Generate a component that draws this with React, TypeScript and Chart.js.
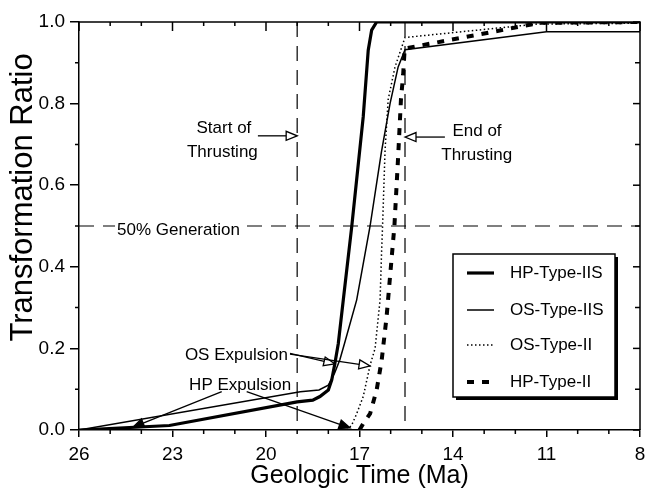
import React, { useEffect, useRef } from 'react';
import { Chart, registerables } from 'chart.js';
Chart.register(...registerables);

// ---------- data (Geologic time in Ma, transformation ratio) ----------
const hpIISTime = [26, 23.1, 19.0, 18.5, 18.27, 18.0, 17.89, 17.79, 17.68, 17.52, 17.25, 16.88, 16.72, 16.61, 16.45, 8];
const hpIISRatio = [0, 0.011, 0.069, 0.073, 0.082, 0.098, 0.123, 0.163, 0.212, 0.319, 0.498, 0.768, 0.931, 0.98, 1.0, 1.0];

const osIISTime = [26, 18.9, 18.3, 18.0, 17.8, 17.63, 17.47, 17.09, 16.66, 16.3, 16.02, 15.76, 15.54, 11.0, 8];
const osIISRatio = [0, 0.094, 0.098, 0.11, 0.139, 0.172, 0.215, 0.319, 0.5, 0.68, 0.8, 0.89, 0.932, 0.976, 0.976];

const osIITime = [17.4, 17.25, 17.09, 16.88, 16.66, 16.5, 16.34, 16.29, 16.26, 16.18, 16.08, 15.86, 15.54, 11.3, 8];
const osIIRatio = [0, 0.012, 0.04, 0.082, 0.159, 0.2, 0.319, 0.44, 0.5, 0.686, 0.81, 0.89, 0.962, 0.995, 0.997];

const hpIITime = [17.0, 16.88, 16.66, 16.45, 16.29, 16.13, 16.02, 15.88, 15.76, 15.67, 15.6, 15.55, 11.2, 8];
const hpIIRatio = [0, 0.016, 0.04, 0.098, 0.17, 0.278, 0.376, 0.5, 0.67, 0.81, 0.87, 0.935, 0.998, 1.0];

const seriesLabels = ['HP-Type-IIS', 'OS-Type-IIS', 'OS-Type-II', 'HP-Type-II'];
const xTickValues = [26, 23, 20, 17, 14, 11, 8];
const startThrusting = 19.0;
const endThrusting = 15.54;
const halfGeneration = 0.5;
const yTitle = 'Transformation Ratio';
const xTitle = 'Geologic Time (Ma)';

const FONT = '"Liberation Sans", Arial, Helvetica, sans-serif';

const pts = (xs: number[], ys: number[]) => xs.map((x, i) => ({ x, y: ys[i] }));

function drawArrow(ctx: CanvasRenderingContext2D, x1: number, y1: number, x2: number, y2: number, filled: boolean) {
  const len = 11, hw = 4.5;
  const a = Math.atan2(y2 - y1, x2 - x1);
  const bx = x2 - len * Math.cos(a), by = y2 - len * Math.sin(a);
  ctx.beginPath();
  ctx.moveTo(x1, y1);
  ctx.lineTo(bx, by);
  ctx.stroke();
  const px = -Math.sin(a) * hw, py = Math.cos(a) * hw;
  ctx.beginPath();
  ctx.moveTo(x2, y2);
  ctx.lineTo(bx + px, by + py);
  ctx.lineTo(bx - px, by - py);
  ctx.closePath();
  ctx.fillStyle = filled ? '#000' : '#fff';
  ctx.fill();
  ctx.stroke();
}

const decorPlugin = {
  id: 'decor',
  beforeDatasetsDraw(chart: any) {
    const { ctx, chartArea: ca, scales } = chart;
    const xs = scales.x, ys = scales.y;
    ctx.save();
    ctx.strokeStyle = '#000';
    ctx.lineWidth = 1.2;
    ctx.setLineDash([15, 9]);
    [startThrusting, endThrusting].forEach((v) => {
      const px = xs.getPixelForValue(v);
      ctx.beginPath();
      ctx.moveTo(px, ca.top);
      ctx.lineTo(px, ca.bottom);
      ctx.stroke();
    });
    const py = ys.getPixelForValue(halfGeneration);
    ctx.beginPath();
    ctx.moveTo(ca.left, py);
    ctx.lineTo(ca.right, py);
    ctx.stroke();
    ctx.restore();
  },
  afterDatasetsDraw(chart: any) {
    const { ctx, chartArea: ca, scales } = chart;
    const xs = scales.x, ys = scales.y;
    const X = (v: number) => xs.getPixelForValue(v);
    const Y = (v: number) => ys.getPixelForValue(v);
    ctx.save();
    ctx.strokeStyle = '#000';
    ctx.fillStyle = '#000';
    ctx.lineWidth = 1.5;
    ctx.setLineDash([]);
    // top and right frame
    ctx.beginPath();
    ctx.moveTo(ca.left, ca.top);
    ctx.lineTo(ca.right, ca.top);
    ctx.lineTo(ca.right, ca.bottom);
    ctx.stroke();
    // x ticks: minor outward at bottom, all inward at top
    for (let v = 8; v <= 26; v += 1) {
      const px = X(v);
      const major = xTickValues.includes(v);
      ctx.beginPath();
      if (!major) {
        ctx.moveTo(px, ca.bottom);
        ctx.lineTo(px, ca.bottom + 4);
      }
      ctx.moveTo(px, ca.top);
      ctx.lineTo(px, ca.top + (major ? 9 : 4));
      ctx.stroke();
    }
    for (let i = 0; i <= 10; i++) {
      const v = i / 10;
      const py = Y(v);
      const major = i % 2 === 0;
      ctx.beginPath();
      if (!major) {
        ctx.moveTo(ca.left, py);
        ctx.lineTo(ca.left - 4, py);
      }
      ctx.moveTo(ca.right, py);
      ctx.lineTo(ca.right - (major ? 7 : 5), py);
      ctx.stroke();
    }

    // y axis title (placed like the original, above the axis centre)
    ctx.save();
    ctx.font = `31px ${FONT}`;
    ctx.textAlign = 'center';
    ctx.textBaseline = 'middle';
    ctx.translate(ca.left - 56, Y(0.57));
    ctx.rotate(-Math.PI / 2);
    ctx.fillStyle = '#000';
    ctx.fillText(yTitle, 0, 0);
    ctx.restore();

    // annotations
    ctx.font = `17px ${FONT}`;
    ctx.textBaseline = 'middle';
    ctx.textAlign = 'center';
    ctx.lineWidth = 1.3;
    ctx.fillStyle = '#000';
    ctx.fillText('Start of', X(21.35), Y(0.74));
    ctx.fillText('Thrusting', X(21.4), Y(0.681));
    drawArrow(ctx, X(20.26), Y(0.721), X(startThrusting), Y(0.721), false);

    ctx.fillStyle = '#000';
    ctx.fillText('End of', X(13.23), Y(0.731));
    ctx.fillText('Thrusting', X(13.24), Y(0.674));
    drawArrow(ctx, X(14.26), Y(0.718), X(endThrusting), Y(0.718), false);

    // 50% Generation with white background
    ctx.textAlign = 'left';
    const gx = X(24.78), gy = Y(0.49);
    const gw = ctx.measureText('50% Generation').width;
    ctx.fillStyle = '#fff';
    ctx.fillRect(gx - 2, gy - 8, gw + 4, 16);
    ctx.fillStyle = '#000';
    ctx.fillText('50% Generation', gx, gy);

    ctx.textAlign = 'center';
    ctx.fillText('OS Expulsion', X(20.95), Y(0.184));
    drawArrow(ctx, X(19.23), Y(0.188), X(17.79), Y(0.162), false);
    drawArrow(ctx, X(19.23), Y(0.186), X(16.66), Y(0.157), false);

    ctx.fillStyle = '#000';
    ctx.fillText('HP Expulsion', X(20.83), Y(0.11));
    drawArrow(ctx, X(21.42), Y(0.094), X(24.27), Y(0.007), true);
    drawArrow(ctx, X(20.62), Y(0.094), X(17.3), Y(0.005), true);

    // legend
    const lx = ca.right - 187, ly = ca.top + 232, lw = 162, lh = 143;
    ctx.fillStyle = '#000';
    ctx.fillRect(lx + 3, ly + 3, lw, lh);
    ctx.fillStyle = '#fff';
    ctx.fillRect(lx, ly, lw, lh);
    ctx.lineWidth = 1.5;
    ctx.strokeRect(lx, ly, lw, lh);
    const rows = [19, 56, 91, 128];
    ctx.textAlign = 'left';
    chart.data.datasets.forEach((ds: any, i: number) => {
      const ry = ly + rows[i];
      ctx.save();
      ctx.strokeStyle = '#000';
      ctx.lineWidth = ds.borderWidth;
      ctx.setLineDash(ds.borderDash || []);
      ctx.beginPath();
      ctx.moveTo(lx + 14, ry);
      ctx.lineTo(lx + 41, ry);
      ctx.stroke();
      ctx.restore();
      ctx.fillStyle = '#000';
      ctx.fillText(ds.label, lx + 57, ry);
    });
    ctx.restore();
  },
};

export default function App() {
  const ref = useRef<HTMLCanvasElement>(null);
  useEffect(() => {
    const chart = new Chart(ref.current as HTMLCanvasElement, {
      type: 'line',
      data: {
        datasets: [
          { label: seriesLabels[0], data: pts(hpIISTime, hpIISRatio), borderColor: '#000', borderWidth: 3.2, borderDash: [], pointRadius: 0, tension: 0 },
          { label: seriesLabels[1], data: pts(osIISTime, osIISRatio), borderColor: '#000', borderWidth: 1.5, borderDash: [], pointRadius: 0, tension: 0 },
          { label: seriesLabels[2], data: pts(osIITime, osIIRatio), borderColor: '#000', borderWidth: 1.5, borderDash: [1.5, 2.5], pointRadius: 0, tension: 0 },
          { label: seriesLabels[3], data: pts(hpIITime, hpIIRatio), borderColor: '#000', borderWidth: 4, borderDash: [7, 8], pointRadius: 0, tension: 0 },
        ],
      } as any,
      options: {
        animation: false,
        responsive: false,
        devicePixelRatio: 1,
        layout: { padding: { top: 22, right: 7, left: 0, bottom: 0 } },
        plugins: { legend: { display: false }, tooltip: { enabled: false } },
        scales: {
          x: {
            type: 'linear',
            reverse: true,
            min: 8,
            max: 26,
            afterFit: (s: any) => { s.height = 66; s.paddingLeft = 0; s.paddingRight = 0; },
            ticks: { stepSize: 3, color: '#000', padding: 6, font: { family: FONT, size: 19 }, maxRotation: 0 },
            grid: { display: true, drawOnChartArea: false, drawTicks: true, tickLength: 7, color: '#000', lineWidth: 1.5 },
            border: { display: true, color: '#000', width: 1.5 },
            title: { display: true, text: xTitle, color: '#000', font: { family: FONT, size: 25 }, padding: { top: 0, bottom: 5 } },
          },
          y: {
            type: 'linear',
            min: 0,
            max: 1,
            afterFit: (s: any) => { s.width = 79; s.paddingTop = 0; s.paddingBottom = 0; },
            ticks: { stepSize: 0.2, color: '#000', padding: 5, font: { family: FONT, size: 19 }, callback: (v: any) => Number(v).toFixed(1) },
            grid: { display: true, drawOnChartArea: false, drawTicks: true, tickLength: 9, color: '#000', lineWidth: 1.5 },
            border: { display: true, color: '#000', width: 1.5 },
            title: { display: false },
          },
        },
      } as any,
      plugins: [decorPlugin],
    });
    return () => chart.destroy();
  }, []);
  return (
    <div style={{ position: 'fixed', left: 0, top: 0, width: 647, height: 496, background: '#fff' }}>
      <canvas ref={ref} width={647} height={496} style={{ display: 'block', width: 647, height: 496 }} />
    </div>
  );
}
